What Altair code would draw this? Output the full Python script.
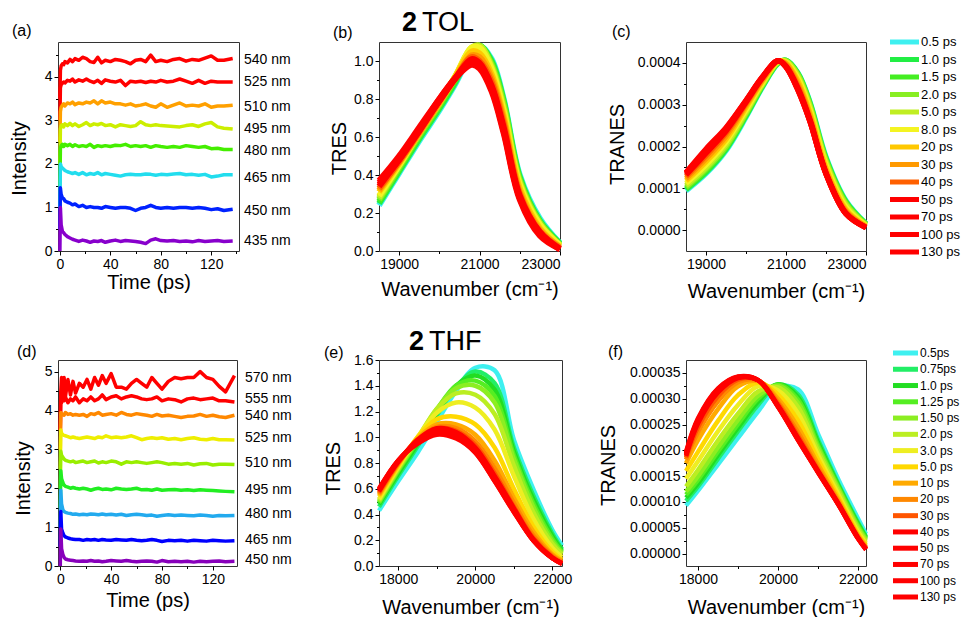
import altair as alt
import pandas as pd

FONT = "Liberation Sans"
WN_TITLE = "Wavenumber (cm\u207b\u00b9)"

# ---------------- (a) time traces, 2 in TOL ----------------
TIME_A = [0, 0.4, 1, 2, 3, 4, 6, 8, 10, 12, 15, 18, 21, 24, 27, 30, 33, 36, 40, 44,
          48, 52, 56, 60, 64, 68, 72, 76, 80, 85, 90, 95, 100, 105, 110, 115, 120, 125, 130, 137]
NAMES_A = ["540 nm", "525 nm", "510 nm", "495 nm", "480 nm", "465 nm", "450 nm", "435 nm"]
COLORS_A = ["#ff0000", "#ff0000", "#ffa000", "#ccee00", "#44ee00", "#22ddee", "#0022ff", "#8800cc"]
A_540 = [3.5, 4.15, 4.25, 4.3, 4.28, 4.35, 4.32, 4.4, 4.35, 4.42, 4.38, 4.45, 4.42, 4.35, 4.33, 4.45, 4.32, 4.38, 4.35, 4.4,
         4.38, 4.35, 4.3, 4.38, 4.4, 4.35, 4.5, 4.35, 4.38, 4.35, 4.4, 4.42, 4.36, 4.4, 4.38, 4.43, 4.48, 4.38, 4.38, 4.42]
A_525 = [3.0, 3.75, 3.82, 3.85, 3.88, 3.86, 3.92, 3.9, 3.95, 3.88, 3.93, 3.9, 3.95, 3.9, 3.87, 3.92, 3.85, 3.93, 3.9, 3.88,
         3.92, 3.8, 3.9, 3.88, 3.9, 3.87, 3.9, 3.88, 3.92, 3.88, 3.9, 3.95, 3.9, 3.85, 3.92, 3.85, 3.9, 3.88, 3.88, 3.88]
A_510 = [2.5, 3.2, 3.3, 3.35, 3.38, 3.33, 3.4, 3.38, 3.42, 3.36, 3.4, 3.38, 3.42, 3.4, 3.45, 3.38, 3.45, 3.4, 3.42, 3.38,
         3.38, 3.35, 3.38, 3.33, 3.35, 3.38, 3.33, 3.3, 3.38, 3.3, 3.35, 3.4, 3.33, 3.35, 3.33, 3.38, 3.3, 3.33, 3.33, 3.35]
A_495 = [2.0, 2.8, 2.88, 2.9, 2.85, 2.92, 2.88, 2.93, 2.88, 2.92, 2.86, 2.9, 2.95, 2.88, 2.92, 2.9, 2.93, 2.88, 2.9, 2.85,
         2.9, 2.88, 2.86, 2.88, 2.97, 2.9, 2.88, 2.9, 2.88, 2.87, 2.86, 2.85, 2.88, 2.9, 2.86, 2.92, 2.95, 2.85, 2.82, 2.8]
A_480 = [1.5, 2.35, 2.42, 2.45, 2.4, 2.45, 2.42, 2.45, 2.4, 2.44, 2.4, 2.42, 2.4, 2.45, 2.38, 2.42, 2.4, 2.42, 2.4, 2.43,
         2.42, 2.45, 2.4, 2.42, 2.4, 2.42, 2.38, 2.42, 2.4, 2.38, 2.4, 2.38, 2.42, 2.4, 2.38, 2.4, 2.35, 2.36, 2.33, 2.33]
A_465 = [1.0, 2.0, 1.95, 1.9, 1.88, 1.85, 1.82, 1.8, 1.78, 1.8, 1.76, 1.8, 1.75, 1.78, 1.76, 1.8, 1.75, 1.78, 1.76, 1.74,
         1.72, 1.75, 1.76, 1.75, 1.75, 1.77, 1.76, 1.74, 1.76, 1.75, 1.77, 1.78, 1.75, 1.76, 1.74, 1.76, 1.7, 1.72, 1.75, 1.75]
A_450 = [0.5, 1.45, 1.3, 1.22, 1.2, 1.15, 1.12, 1.1, 1.06, 1.08, 1.02, 1.05, 1.0, 1.02, 1.0, 1.0, 0.98, 1.02, 1.0, 0.98,
         1.0, 1.0, 0.98, 0.93, 0.98, 1.0, 1.05, 1.0, 0.98, 1.0, 0.98, 1.0, 1.0, 0.98, 1.0, 0.98, 0.95, 0.97, 0.93, 0.96]
A_435 = [0.0, 1.0, 0.6, 0.45, 0.42, 0.38, 0.33, 0.3, 0.27, 0.25, 0.22, 0.25, 0.23, 0.2, 0.23, 0.22, 0.24, 0.2, 0.23, 0.25,
         0.22, 0.24, 0.23, 0.22, 0.2, 0.17, 0.25, 0.28, 0.24, 0.23, 0.24, 0.22, 0.23, 0.21, 0.24, 0.22, 0.23, 0.24, 0.22, 0.23]
LABEL_Y_A = [4.39, 3.89, 3.31, 2.80, 2.30, 1.68, 0.92, 0.23]

# ---------------- (d) time traces, 2 in THF ----------------
NAMES_D = ["570 nm", "555 nm", "540 nm", "525 nm", "510 nm", "495 nm", "480 nm", "465 nm", "450 nm"]
COLORS_D = ["#ff0000", "#ff0000", "#ff8800", "#eeee00", "#99ee00", "#22ee22", "#22aaee", "#0000ff", "#8800bb"]
D_570 = [3.5, 4.5, 4.85, 4.3, 4.85, 4.35, 4.8, 4.4, 4.75, 4.45, 4.7, 4.6, 4.8, 4.55, 4.85, 4.65, 4.9, 4.7, 4.95, 4.6,
         4.6, 4.55, 4.7, 4.8, 4.7, 4.6, 4.85, 4.7, 4.55, 4.75, 4.85, 4.82, 4.85, 4.85, 5.0, 4.85, 4.8, 4.62, 4.48, 4.9]
D_555 = [3.5, 4.35, 4.2, 4.4, 4.25, 4.35, 4.2, 4.3, 4.25, 4.35, 4.2, 4.3, 4.25, 4.35, 4.25, 4.3, 4.4, 4.28, 4.35, 4.38,
         4.3, 4.35, 4.38, 4.35, 4.3, 4.28, 4.3, 4.35, 4.25, 4.3, 4.28, 4.22, 4.3, 4.32, 4.28, 4.3, 4.32, 4.25, 4.25, 4.22]
D_540 = [3.0, 3.95, 3.92, 3.9, 3.88, 3.95, 3.9, 3.92, 3.88, 3.9, 3.88, 3.9, 3.85, 3.92, 3.9, 3.95, 3.88, 3.9, 3.92, 3.88,
         3.95, 3.9, 3.88, 3.92, 3.9, 3.88, 3.85, 3.9, 3.86, 3.88, 3.85, 3.82, 3.85, 3.86, 3.9, 3.85, 3.88, 3.84, 3.82, 3.88]
D_525 = [2.5, 3.5, 3.42, 3.38, 3.36, 3.35, 3.33, 3.3, 3.32, 3.3, 3.28, 3.3, 3.32, 3.3, 3.28, 3.32, 3.3, 3.35, 3.3, 3.32,
         3.3, 3.32, 3.35, 3.3, 3.25, 3.28, 3.3, 3.28, 3.3, 3.26, 3.28, 3.25, 3.28, 3.3, 3.26, 3.25, 3.28, 3.25, 3.25, 3.24]
D_510 = [2.0, 2.95, 2.85, 2.8, 2.75, 2.72, 2.7, 2.68, 2.7, 2.66, 2.68, 2.7, 2.66, 2.68, 2.7, 2.65, 2.68, 2.66, 2.7, 2.68,
         2.62, 2.68, 2.66, 2.68, 2.66, 2.64, 2.66, 2.68, 2.66, 2.62, 2.64, 2.62, 2.64, 2.6, 2.63, 2.64, 2.6, 2.62, 2.62, 2.61]
D_495 = [1.5, 2.45, 2.25, 2.15, 2.08, 2.05, 2.03, 2.0, 2.02, 2.0, 1.98, 2.0, 1.98, 1.95, 1.98, 2.0, 1.97, 1.98, 1.96, 2.0,
         1.98, 1.97, 1.98, 2.0, 1.96, 1.97, 1.95, 1.98, 1.95, 1.96, 1.97, 1.95, 1.96, 1.94, 1.96, 1.95, 1.94, 1.93, 1.92, 1.91]
D_480 = [1.0, 1.95, 1.6, 1.45, 1.4, 1.38, 1.36, 1.35, 1.33, 1.34, 1.32, 1.33, 1.32, 1.34, 1.33, 1.32, 1.34, 1.32, 1.33, 1.31,
         1.33, 1.3, 1.32, 1.33, 1.32, 1.3, 1.31, 1.28, 1.3, 1.32, 1.3, 1.31, 1.3, 1.29, 1.31, 1.3, 1.28, 1.3, 1.29, 1.3]
D_465 = [0.5, 1.4, 0.95, 0.85, 0.78, 0.75, 0.72, 0.7, 0.69, 0.68, 0.68, 0.66, 0.68, 0.67, 0.68, 0.66, 0.68, 0.67, 0.66, 0.68,
         0.67, 0.66, 0.68, 0.66, 0.65, 0.66, 0.68, 0.66, 0.63, 0.66, 0.65, 0.66, 0.64, 0.66, 0.65, 0.64, 0.66, 0.65, 0.64, 0.65]
D_450 = [0.0, 0.95, 0.45, 0.3, 0.22, 0.18, 0.16, 0.15, 0.14, 0.13, 0.12, 0.13, 0.12, 0.14, 0.12, 0.13, 0.11, 0.12, 0.14, 0.13,
         0.12, 0.14, 0.12, 0.11, 0.12, 0.13, 0.12, 0.1, 0.14, 0.11, 0.12, 0.11, 0.12, 0.1, 0.12, 0.11, 0.12, 0.13, 0.11, 0.12]
LABEL_Y_D = [4.84, 4.30, 3.87, 3.30, 2.66, 1.95, 1.35, 0.68, 0.15]

# ---------------- (b), (c) spectra in TOL ----------------
WN_TOL = [18500, 19000, 19500, 20000, 20400, 20800, 21000, 21300, 21600, 22000, 22500, 23000]
NAMES_TOL = ["0.5 ps", "1.0 ps", "1.5 ps", "2.0 ps", "5.0 ps", "8.0 ps", "20 ps", "30 ps", "40 ps",
             "50 ps", "70 ps", "100 ps", "130 ps"]
COLORS_TOL = ["#3ef0f0", "#22ee44", "#44ee22", "#88ee22", "#c0ee22", "#f4f422", "#ffc800", "#ff9a00",
              "#ff6000", "#ff0000", "#ff0000", "#ff0000", "#ff0000"]
TRES_TOL = [
    [0.24, 0.41, 0.58, 0.74, 0.88, 1.04, 1.08, 1.01, 0.80, 0.40, 0.17, 0.04],
    [0.25, 0.42, 0.59, 0.75, 0.89, 1.05, 1.08, 1.00, 0.79, 0.39, 0.16, 0.04],
    [0.26, 0.43, 0.60, 0.76, 0.90, 1.05, 1.08, 0.99, 0.78, 0.38, 0.15, 0.035],
    [0.27, 0.44, 0.61, 0.77, 0.91, 1.06, 1.08, 0.98, 0.77, 0.37, 0.15, 0.03],
    [0.28, 0.45, 0.62, 0.78, 0.92, 1.07, 1.08, 0.97, 0.75, 0.36, 0.14, 0.03],
    [0.29, 0.45, 0.62, 0.78, 0.92, 1.07, 1.07, 0.96, 0.74, 0.35, 0.14, 0.03],
    [0.31, 0.46, 0.62, 0.78, 0.92, 1.05, 1.04, 0.93, 0.71, 0.33, 0.12, 0.02],
    [0.32, 0.47, 0.62, 0.78, 0.91, 1.03, 1.02, 0.91, 0.69, 0.31, 0.11, 0.02],
    [0.33, 0.47, 0.63, 0.79, 0.91, 1.02, 1.00, 0.89, 0.67, 0.30, 0.10, 0.015],
    [0.34, 0.48, 0.63, 0.79, 0.91, 1.01, 0.99, 0.87, 0.65, 0.29, 0.10, 0.01],
    [0.35, 0.48, 0.64, 0.79, 0.91, 1.00, 0.98, 0.86, 0.64, 0.28, 0.09, 0.01],
    [0.36, 0.49, 0.64, 0.80, 0.91, 0.99, 0.97, 0.85, 0.63, 0.28, 0.09, 0.01],
    [0.37, 0.50, 0.65, 0.80, 0.91, 0.98, 0.96, 0.84, 0.62, 0.27, 0.08, 0.01],
]
TRANES_TOL = [
    [0.94e-4, 1.35e-4, 1.90e-4, 2.70e-4, 3.40e-4, 3.98e-4, 4.06e-4, 3.76e-4, 3.06e-4, 1.75e-4, 0.70e-4, 0.15e-4],
    [0.97e-4, 1.38e-4, 1.93e-4, 2.73e-4, 3.42e-4, 3.99e-4, 4.06e-4, 3.75e-4, 3.04e-4, 1.72e-4, 0.68e-4, 0.15e-4],
    [1.00e-4, 1.42e-4, 1.97e-4, 2.76e-4, 3.44e-4, 4.00e-4, 4.06e-4, 3.73e-4, 3.01e-4, 1.69e-4, 0.66e-4, 0.14e-4],
    [1.03e-4, 1.46e-4, 2.00e-4, 2.79e-4, 3.46e-4, 4.01e-4, 4.05e-4, 3.71e-4, 2.98e-4, 1.66e-4, 0.63e-4, 0.13e-4],
    [1.07e-4, 1.50e-4, 2.05e-4, 2.83e-4, 3.48e-4, 4.02e-4, 4.04e-4, 3.68e-4, 2.94e-4, 1.62e-4, 0.60e-4, 0.12e-4],
    [1.12e-4, 1.56e-4, 2.11e-4, 2.88e-4, 3.51e-4, 4.03e-4, 4.02e-4, 3.63e-4, 2.88e-4, 1.56e-4, 0.55e-4, 0.11e-4],
    [1.18e-4, 1.64e-4, 2.18e-4, 2.94e-4, 3.55e-4, 4.04e-4, 4.00e-4, 3.56e-4, 2.79e-4, 1.48e-4, 0.49e-4, 0.09e-4],
    [1.23e-4, 1.71e-4, 2.25e-4, 2.99e-4, 3.58e-4, 4.04e-4, 3.97e-4, 3.49e-4, 2.72e-4, 1.42e-4, 0.45e-4, 0.08e-4],
    [1.28e-4, 1.78e-4, 2.32e-4, 3.03e-4, 3.61e-4, 4.05e-4, 3.94e-4, 3.43e-4, 2.66e-4, 1.38e-4, 0.42e-4, 0.07e-4],
    [1.32e-4, 1.84e-4, 2.37e-4, 3.06e-4, 3.63e-4, 4.05e-4, 3.92e-4, 3.39e-4, 2.63e-4, 1.36e-4, 0.40e-4, 0.06e-4],
    [1.35e-4, 1.88e-4, 2.41e-4, 3.08e-4, 3.64e-4, 4.05e-4, 3.91e-4, 3.37e-4, 2.61e-4, 1.35e-4, 0.39e-4, 0.06e-4],
    [1.37e-4, 1.91e-4, 2.43e-4, 3.10e-4, 3.65e-4, 4.05e-4, 3.90e-4, 3.35e-4, 2.60e-4, 1.35e-4, 0.39e-4, 0.06e-4],
    [1.38e-4, 1.94e-4, 2.45e-4, 3.10e-4, 3.65e-4, 4.05e-4, 3.90e-4, 3.35e-4, 2.60e-4, 1.35e-4, 0.39e-4, 0.06e-4],
]

# ---------------- (e), (f) spectra in THF ----------------
WN_THF_E = [17500, 18000, 18500, 19000, 19500, 20000, 20500, 21000, 21500, 22000, 22250]
WN_THF_F = [17700, 18000, 18500, 19000, 19500, 20000, 20500, 21000, 21500, 22000, 22200]
NAMES_THF = ["0.5ps", "0.75ps", "1.0 ps", "1.25 ps", "1.50 ps", "2.0 ps", "3.0 ps", "5.0 ps", "10 ps",
             "20 ps", "30 ps", "40 ps", "50 ps", "70 ps", "100 ps", "130 ps"]
COLORS_THF = ["#3ef0f0", "#22ee66", "#22dd22", "#55ee22", "#8cee22", "#bbee22", "#eeee22", "#ffd800",
              "#ffaa00", "#ff8800", "#ff5500", "#ff0000", "#ff0000", "#ff0000", "#ff0000", "#ff0000"]
TRES_THF = [
    [0.43, 0.66, 0.88, 1.12, 1.36, 1.54, 1.52, 0.98, 0.60, 0.28, 0.16],
    [0.46, 0.70, 0.93, 1.17, 1.39, 1.51, 1.42, 0.92, 0.55, 0.25, 0.13],
    [0.48, 0.72, 0.95, 1.19, 1.40, 1.48, 1.37, 0.89, 0.52, 0.23, 0.12],
    [0.49, 0.74, 0.97, 1.21, 1.40, 1.44, 1.32, 0.86, 0.49, 0.21, 0.11],
    [0.50, 0.75, 0.98, 1.22, 1.38, 1.40, 1.27, 0.83, 0.46, 0.19, 0.10],
    [0.51, 0.76, 0.99, 1.22, 1.34, 1.33, 1.18, 0.78, 0.42, 0.17, 0.09],
    [0.52, 0.77, 1.00, 1.19, 1.27, 1.23, 1.06, 0.70, 0.37, 0.14, 0.07],
    [0.54, 0.78, 1.00, 1.14, 1.16, 1.10, 0.92, 0.60, 0.31, 0.11, 0.05],
    [0.55, 0.79, 0.99, 1.10, 1.10, 1.02, 0.82, 0.53, 0.27, 0.09, 0.04],
    [0.56, 0.80, 0.98, 1.08, 1.07, 0.97, 0.76, 0.49, 0.24, 0.08, 0.03],
    [0.57, 0.80, 0.98, 1.07, 1.05, 0.94, 0.72, 0.46, 0.22, 0.07, 0.025],
    [0.58, 0.81, 0.98, 1.07, 1.04, 0.92, 0.70, 0.45, 0.21, 0.065, 0.02],
    [0.59, 0.81, 0.97, 1.05, 1.02, 0.90, 0.69, 0.44, 0.205, 0.06, 0.02],
    [0.59, 0.82, 0.96, 1.04, 1.01, 0.89, 0.67, 0.43, 0.20, 0.06, 0.02],
    [0.60, 0.82, 0.95, 1.03, 1.00, 0.88, 0.66, 0.42, 0.20, 0.06, 0.02],
    [0.60, 0.82, 0.95, 1.02, 0.99, 0.88, 0.66, 0.42, 0.20, 0.06, 0.015],
]
TRANES_THF = [
    [0.93e-4, 1.22e-4, 1.73e-4, 2.24e-4, 2.75e-4, 3.22e-4, 3.18e-4, 2.32e-4, 1.45e-4, 0.68e-4, 0.38e-4],
    [1.02e-4, 1.30e-4, 1.84e-4, 2.37e-4, 2.88e-4, 3.27e-4, 3.08e-4, 2.20e-4, 1.36e-4, 0.60e-4, 0.33e-4],
    [1.08e-4, 1.36e-4, 1.91e-4, 2.44e-4, 2.94e-4, 3.28e-4, 3.03e-4, 2.15e-4, 1.33e-4, 0.57e-4, 0.31e-4],
    [1.14e-4, 1.43e-4, 1.98e-4, 2.51e-4, 3.00e-4, 3.27e-4, 2.98e-4, 2.10e-4, 1.30e-4, 0.54e-4, 0.29e-4],
    [1.20e-4, 1.50e-4, 2.06e-4, 2.59e-4, 3.06e-4, 3.25e-4, 2.92e-4, 2.05e-4, 1.27e-4, 0.51e-4, 0.27e-4],
    [1.30e-4, 1.62e-4, 2.19e-4, 2.71e-4, 3.14e-4, 3.22e-4, 2.84e-4, 1.99e-4, 1.22e-4, 0.47e-4, 0.24e-4],
    [1.45e-4, 1.79e-4, 2.37e-4, 2.88e-4, 3.24e-4, 3.16e-4, 2.72e-4, 1.91e-4, 1.16e-4, 0.42e-4, 0.20e-4],
    [1.60e-4, 1.97e-4, 2.57e-4, 3.07e-4, 3.31e-4, 3.08e-4, 2.58e-4, 1.82e-4, 1.10e-4, 0.38e-4, 0.16e-4],
    [1.75e-4, 2.20e-4, 2.80e-4, 3.24e-4, 3.34e-4, 3.00e-4, 2.45e-4, 1.73e-4, 1.05e-4, 0.35e-4, 0.13e-4],
    [1.82e-4, 2.35e-4, 2.95e-4, 3.32e-4, 3.35e-4, 2.94e-4, 2.35e-4, 1.66e-4, 1.01e-4, 0.33e-4, 0.11e-4],
    [1.86e-4, 2.45e-4, 3.05e-4, 3.37e-4, 3.36e-4, 2.90e-4, 2.28e-4, 1.62e-4, 0.99e-4, 0.32e-4, 0.10e-4],
    [1.89e-4, 2.52e-4, 3.12e-4, 3.40e-4, 3.36e-4, 2.87e-4, 2.24e-4, 1.60e-4, 0.98e-4, 0.31e-4, 0.09e-4],
    [1.91e-4, 2.56e-4, 3.16e-4, 3.41e-4, 3.36e-4, 2.86e-4, 2.22e-4, 1.59e-4, 0.97e-4, 0.30e-4, 0.09e-4],
    [1.93e-4, 2.58e-4, 3.18e-4, 3.42e-4, 3.36e-4, 2.85e-4, 2.21e-4, 1.58e-4, 0.97e-4, 0.30e-4, 0.08e-4],
    [1.95e-4, 2.60e-4, 3.19e-4, 3.42e-4, 3.36e-4, 2.85e-4, 2.20e-4, 1.58e-4, 0.96e-4, 0.29e-4, 0.08e-4],
    [1.97e-4, 2.62e-4, 3.20e-4, 3.43e-4, 3.36e-4, 2.84e-4, 2.20e-4, 1.57e-4, 0.96e-4, 0.29e-4, 0.08e-4],
]

# minor tick positions (between labelled ticks)
MINOR_A_X = [20, 60, 100, 140]
MINOR_A_Y = [0.5, 1.5, 2.5, 3.5, 4.5]
MINOR_D_Y = [0.5, 1.5, 2.5, 3.5, 4.5]
MINOR_TOL_X = [20000, 22000]
MINOR_B_Y = [0.1, 0.3, 0.5, 0.7, 0.9]
MINOR_C_Y = [0.00005, 0.00015, 0.00025, 0.00035]
MINOR_THF_X = [19000, 21000]
MINOR_E_Y = [0.1, 0.3, 0.5, 0.7, 0.9, 1.1, 1.3, 1.5]
MINOR_F_Y = [0.000025, 0.000075, 0.000125, 0.000175, 0.000225, 0.000275, 0.000325]


def text_chart(txt, x, y, size=16, weight="normal"):
    return alt.Chart(pd.DataFrame({"t": [txt]})).mark_text(
        align="left", baseline="middle", font=FONT, fontSize=size, fontWeight=weight, color="black"
    ).encode(x=alt.value(x), y=alt.value(y), text="t:N")


def minor_layer(xdom, ydom, xminor, yminor):
    md = pd.DataFrame({"mx": xdom, "my": ydom})
    return alt.Chart(md).mark_point(opacity=0).encode(
        x=alt.X("mx:Q", scale=alt.Scale(domain=xdom, nice=False, zero=False),
                axis=alt.Axis(values=xminor, labels=False, tickSize=2.5, title=None, orient="bottom")),
        y=alt.Y("my:Q", scale=alt.Scale(domain=ydom, nice=False, zero=False),
                axis=alt.Axis(values=yminor, labels=False, tickSize=2.5, title=None, orient="left")),
    )


def trace_panel(key, names, series, colors, label_y, xdom, ydom, yvals, yminor, w, h,
                letter, letter_xy, ytitle_xy, xtitle_y, label_dx):
    rows = [{"t": t, "v": v, key: n} for n, vals in zip(names, series) for t, v in zip(TIME_A, vals)]
    df = pd.DataFrame(rows)
    lab = pd.DataFrame({"lab": names, "ly": label_y})
    yscale = alt.Scale(domain=ydom, nice=False, zero=False)
    lines = alt.Chart(df).mark_line(strokeWidth=3.5, strokeJoin="round").encode(
        x=alt.X("t:Q", scale=alt.Scale(domain=xdom, nice=False, zero=False),
                axis=alt.Axis(values=[0, 40, 80, 120], format="d", title="Time (ps)",
                              titleY=xtitle_y, titleBaseline="alphabetic")),
        y=alt.Y("v:Q", scale=yscale,
                axis=alt.Axis(values=yvals, format="d", title="Intensity",
                              titleX=ytitle_xy[0], titleY=ytitle_xy[1], titleBaseline="alphabetic")),
        color=alt.Color(f"{key}:N", scale=alt.Scale(domain=names, range=colors), legend=None),
    )
    labels = alt.Chart(lab).mark_text(
        align="left", baseline="middle", font=FONT, fontSize=14, color="black"
    ).encode(x=alt.value(w + label_dx), y=alt.Y("ly:Q", scale=yscale, axis=None), text="lab:N")
    return alt.layer(
        lines, minor_layer(xdom, ydom, MINOR_A_X, yminor), labels, text_chart(letter, *letter_xy)
    ).resolve_scale(x="independent", y="independent").properties(width=w, height=h)


def spectra_lines(key, wn, names, series, colors, xdom, ydom, xvals, yvals, yfmt, ytitle,
                  ytitle_xy, xtitle_y, sw):
    rows = [{"w": x, "v": v, key: n} for n, vals in zip(names, series) for x, v in zip(wn, vals)]
    df = pd.DataFrame(rows)
    return alt.Chart(df).mark_line(strokeWidth=sw, interpolate="catmull-rom", strokeJoin="round").encode(
        x=alt.X("w:Q", scale=alt.Scale(domain=xdom, nice=False, zero=False),
                axis=alt.Axis(values=xvals, format="d", title=WN_TITLE,
                              titleY=xtitle_y, titleBaseline="alphabetic")),
        y=alt.Y("v:Q", scale=alt.Scale(domain=ydom, nice=False, zero=False),
                axis=alt.Axis(values=yvals, format=yfmt, title=ytitle,
                              titleX=ytitle_xy[0], titleY=ytitle_xy[1], titleBaseline="alphabetic")),
        color=alt.Color(f"{key}:N", scale=alt.Scale(domain=names, range=colors), legend=None),
    )


def legend_layers(names, colors, yrange, x0, x1, xt, size):
    ld = pd.DataFrame({"lbl": names, "idx": list(range(len(names))), "col": colors})
    ysc = alt.Scale(domain=[0, len(names) - 1], range=yrange)
    rules = alt.Chart(ld).mark_rule(strokeWidth=5).encode(
        x=alt.value(x0), x2=alt.value(x1),
        y=alt.Y("idx:Q", scale=ysc, axis=None),
        color=alt.Color("col:N", scale=None, legend=None),
    )
    texts = alt.Chart(ld).mark_text(
        align="left", baseline="middle", font=FONT, fontSize=size, color="black"
    ).encode(x=alt.value(xt), y=alt.Y("idx:Q", scale=ysc, axis=None), text="lbl:N")
    return rules, texts


RES = dict(x="independent", y="independent", color="independent")

# ---- panels ----
pa = trace_panel("sa", NAMES_A, [A_540, A_525, A_510, A_495, A_480, A_465, A_450, A_435], COLORS_A,
                 LABEL_Y_A, [-1.5, 142], [0, 4.8], [0, 1, 2, 3, 4], MINOR_A_Y, 181, 209,
                 "(a)", (-46, -11), (-33, 116), 37.5, 5)

pb = alt.layer(
    spectra_lines("sb", WN_TOL, NAMES_TOL, TRES_TOL, COLORS_TOL, [18500, 23000], [0, 1.1],
                  [19000, 21000, 23000], [0, 0.2, 0.4, 0.6, 0.8, 1.0], ".1f", "TRES",
                  (-34, 106), 44.5, 6),
    minor_layer([18500, 23000], [0, 1.1], MINOR_TOL_X, MINOR_B_Y),
    text_chart("(b)", -46, -9),
    text_chart("2", 23, -19, 27, "bold"),
    text_chart("TOL", 43, -19, 27),
).resolve_scale(**RES).properties(width=181, height=209)

rc, tc = legend_layers(NAMES_TOL, COLORS_TOL, [0, 210], 204, 233, 235, 13)
pc = alt.layer(
    spectra_lines("sc", WN_TOL, NAMES_TOL, TRANES_TOL, COLORS_TOL, [18500, 23000], [-0.00005, 0.00045],
                  [19000, 21000, 23000], [0, 0.0001, 0.0002, 0.0003, 0.0004], ".4f", "TRANES",
                  (-63, 102), 46, 5.5),
    minor_layer([18500, 23000], [-0.00005, 0.00045], MINOR_TOL_X, MINOR_C_Y),
    rc, tc,
    text_chart("(c)", -74, -10),
).resolve_scale(**RES).properties(width=180, height=209)

pd_ = trace_panel("sd", NAMES_D, [D_570, D_555, D_540, D_525, D_510, D_495, D_480, D_465, D_450], COLORS_D,
                  LABEL_Y_D, [-1.8, 139], [0, 5.3], [0, 1, 2, 3, 4, 5], MINOR_D_Y, 179, 206,
                  "(d)", (-41, -8), (-29, 118), 40.5, 8)

pe = alt.layer(
    spectra_lines("se", WN_THF_E, NAMES_THF, TRES_THF, COLORS_THF, [17500, 22250], [0, 1.6],
                  [18000, 20000, 22000], [0, 0.2, 0.4, 0.6, 0.8, 1.0, 1.2, 1.4, 1.6], ".1f", "TRES",
                  (-40, 108), 47.5, 4.5),
    minor_layer([17500, 22250], [0, 1.6], MINOR_THF_X, MINOR_E_Y),
    text_chart("(e)", -55, -7),
    text_chart("2", 30, -18, 27, "bold"),
    text_chart("THF", 50, -18, 27),
).resolve_scale(**RES).properties(width=183, height=206)

rf, tf = legend_layers(NAMES_THF, COLORS_THF, [-7, 237], 207, 232, 234, 12)
pf = alt.layer(
    spectra_lines("sf", WN_THF_F, NAMES_THF, TRANES_THF, COLORS_THF, [17700, 22200], [-0.000024, 0.000375],
                  [18000, 20000, 22000],
                  [0, 0.00005, 0.0001, 0.00015, 0.0002, 0.00025, 0.0003, 0.00035], ".5f", "TRANES",
                  (-72, 105), 47, 4.5),
    minor_layer([17700, 22200], [-0.000024, 0.000375], MINOR_THF_X, MINOR_F_Y),
    rf, tf,
    text_chart("(f)", -78, -8),
).resolve_scale(**RES).properties(width=180, height=206)


def spacer(w, h):
    return alt.Chart(pd.DataFrame({"z": [0]})).mark_point(opacity=0).properties(
        width=w, height=h, view=alt.ViewBackground(stroke="transparent"))


chart = alt.concat(
    pa, spacer(140, 209), pb, spacer(124, 209), pc,
    pd_, spacer(140, 206), pe, spacer(124, 206), pf,
    columns=5, spacing={"row": 109, "column": 0}, bounds="flush", align="each",
).resolve_scale(
    color="independent"
).properties(
    padding={"left": 0, "top": 0, "right": 0, "bottom": 0}, background="white"
).configure_view(
    stroke="#333333", strokeWidth=1
).configure_axis(
    labelFont=FONT, labelFontSize=14, labelColor="black", labelPadding=2,
    titleFont=FONT, titleFontSize=20, titleFontWeight="normal", titleColor="black",
    tickSize=4, tickColor="black", tickWidth=1, domain=False, grid=False,
)

chart.save("out.html", embed_options={"renderer": "svg", "actions": False})
